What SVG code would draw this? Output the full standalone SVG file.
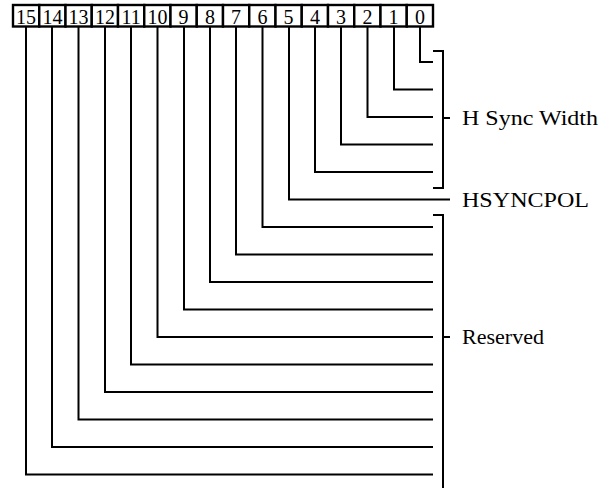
<svg xmlns="http://www.w3.org/2000/svg" width="610" height="488" viewBox="0 0 610 488">
<style>
.box{fill:#fff;stroke:#000;stroke-width:2.4}
.num{font-family:"Liberation Serif","Times New Roman",serif;font-size:20px;text-anchor:middle;fill:#000}
.lbl{font-family:"Liberation Serif","Times New Roman",serif;font-size:21.5px;fill:#000}
.wire{fill:none;stroke:#000;stroke-width:2}
</style>
<rect width="610" height="488" fill="#fff"/>
<g id="connectors" class="wire">
<path d="M420 27V62H433"/>
<path d="M394 27V89.5H433"/>
<path d="M367.5 27V117H433"/>
<path d="M341 27V144.5H433"/>
<path d="M315 27V172H433"/>
<path d="M289 27V199.5H450"/>
<path d="M262.5 27V227H433"/>
<path d="M236 27V254.5H433"/>
<path d="M210 27V282H433"/>
<path d="M184 27V309.5H433"/>
<path d="M157.5 27V337H433"/>
<path d="M131 27V364.5H433"/>
<path d="M105 27V392H433"/>
<path d="M78.5 27V419.5H433"/>
<path d="M52 27V447H433"/>
<path d="M26 27V474.5H433"/>
<path id="bracket-hsync" d="M433 51H443V188H433M443 118H450"/>
<path id="bracket-reserved" d="M433 215H443V490M443 337H450"/>
</g>
<g id="bit15"><rect class="box" x="13" y="5" width="26.25" height="21.5"/><text class="num" x="26.1" y="24">15</text></g>
<g id="bit14"><rect class="box" x="39.25" y="5" width="26.25" height="21.5"/><text class="num" x="52.4" y="24">14</text></g>
<g id="bit13"><rect class="box" x="65.5" y="5" width="26.25" height="21.5"/><text class="num" x="78.6" y="24">13</text></g>
<g id="bit12"><rect class="box" x="91.75" y="5" width="26.25" height="21.5"/><text class="num" x="104.9" y="24">12</text></g>
<g id="bit11"><rect class="box" x="118" y="5" width="26.25" height="21.5"/><text class="num" x="131.1" y="24">11</text></g>
<g id="bit10"><rect class="box" x="144.25" y="5" width="26.25" height="21.5"/><text class="num" x="157.4" y="24">10</text></g>
<g id="bit9"><rect class="box" x="170.5" y="5" width="26.25" height="21.5"/><text class="num" x="183.6" y="24">9</text></g>
<g id="bit8"><rect class="box" x="196.75" y="5" width="26.25" height="21.5"/><text class="num" x="209.9" y="24">8</text></g>
<g id="bit7"><rect class="box" x="223" y="5" width="26.25" height="21.5"/><text class="num" x="236.1" y="24">7</text></g>
<g id="bit6"><rect class="box" x="249.25" y="5" width="26.25" height="21.5"/><text class="num" x="262.4" y="24">6</text></g>
<g id="bit5"><rect class="box" x="275.5" y="5" width="26.25" height="21.5"/><text class="num" x="288.6" y="24">5</text></g>
<g id="bit4"><rect class="box" x="301.75" y="5" width="26.25" height="21.5"/><text class="num" x="314.9" y="24">4</text></g>
<g id="bit3"><rect class="box" x="328" y="5" width="26.25" height="21.5"/><text class="num" x="341.1" y="24">3</text></g>
<g id="bit2"><rect class="box" x="354.25" y="5" width="26.25" height="21.5"/><text class="num" x="367.4" y="24">2</text></g>
<g id="bit1"><rect class="box" x="380.5" y="5" width="26.25" height="21.5"/><text class="num" x="393.6" y="24">1</text></g>
<g id="bit0"><rect class="box" x="406.75" y="5" width="26.25" height="21.5"/><text class="num" x="419.9" y="24">0</text></g>
<g id="label-hsync-width"><text class="lbl" x="462" y="125" textLength="136" lengthAdjust="spacingAndGlyphs">H Sync Width</text></g>
<g id="label-hsyncpol"><text class="lbl" x="462" y="207" textLength="127" lengthAdjust="spacingAndGlyphs">HSYNCPOL</text></g>
<g id="label-reserved"><text class="lbl" x="462" y="344" textLength="82" lengthAdjust="spacingAndGlyphs">Reserved</text></g>
</svg>
